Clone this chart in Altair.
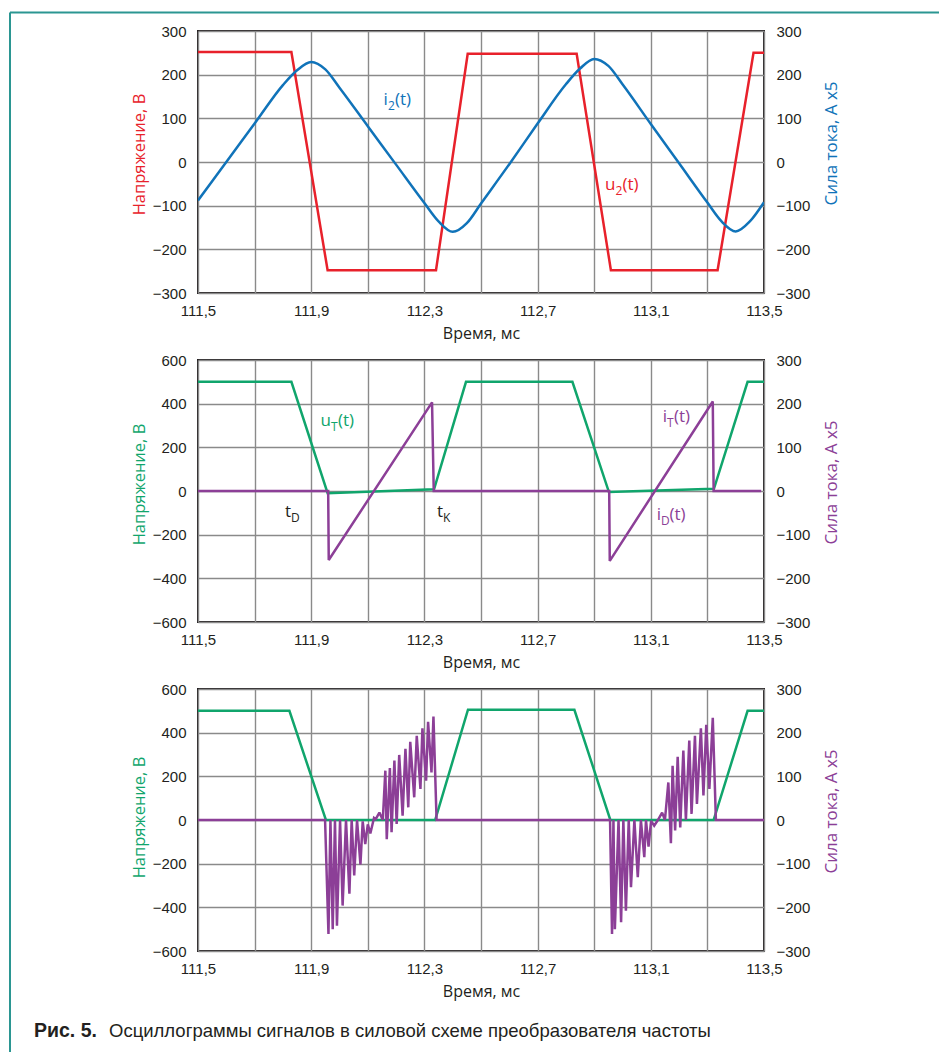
import altair as alt
import pandas as pd

# ---------------- data ----------------
x_grid = [111.5, 111.7, 111.9, 112.1, 112.3, 112.5, 112.7, 112.9, 113.1, 113.3, 113.5]
y_left_1 = [-300, -200, -100, 0, 100, 200, 300]
y_right = [-300, -200, -100, 0, 100, 200, 300]
y_left_2 = [-600, -400, -200, 0, 200, 400, 600]

# Panel 1: u2(t) (V) and i2(t) (A x5)
u2_t = [111.5, 111.83, 111.958, 112.341, 112.453, 112.838, 112.959, 113.336, 113.463, 113.5]
u2_v = [252, 252, -248, -248, 248, 248, -248, -248, 250, 250]
i2_t = [111.5, 111.6, 111.7, 111.8, 111.85, 111.9, 111.95, 112.0, 112.1, 112.2, 112.3,
        112.35, 112.4, 112.45, 112.5, 112.6, 112.7, 112.8, 112.85, 112.9, 112.95, 113.0,
        113.1, 113.2, 113.3, 113.35, 113.4, 113.45, 113.5]
i2_v = [-88, 0, 88, 176, 210, 229, 212, 170, 82, -6, -94,
        -136, -160, -140, -95, -5, 88, 178, 214, 236, 220, 178,
        87, -3, -93, -136, -159, -136, -92]

# Panel 2: uT(t) (V) and iT/iD(t) (A x5)
ut2_t = [111.5, 111.83, 111.958, 112.334, 112.447, 112.823, 112.952, 113.323, 113.442, 113.5]
ut2_v = [500, 500, -10, 8, 500, 500, -5, 10, 500, 500]
it2_t = [111.5, 111.96, 111.962, 112.327, 112.333, 112.953, 112.955, 113.319, 113.322, 113.49]
it2_v = [0, 0, -158, 203, 0, 0, -160, 205, 0, 0]

# Panel 3: uT(t) (V) and oscillating current (A x5)
ut3_t = [111.5, 111.823, 111.952, 112.338, 112.454, 112.83, 112.957, 113.322, 113.442, 113.5]
ut3_v = [500, 500, 0, 0, 505, 505, 0, 0, 500, 500]
it3_t = [111.5, 111.949, 111.961, 111.968, 111.976, 111.984, 111.991, 112.002, 112.011, 112.023,
         112.035, 112.043, 112.052, 112.062, 112.074, 112.082, 112.091, 112.100, 112.109, 112.122,
         112.128, 112.141, 112.153, 112.162, 112.167, 112.178, 112.184, 112.194, 112.202, 112.211,
         112.223, 112.233, 112.243, 112.250, 112.264, 112.273, 112.286, 112.293, 112.306, 112.313,
         112.325, 112.332, 112.343,
         112.956, 112.963, 112.968, 112.973, 112.986, 112.995, 113.003, 113.012, 113.022, 113.030,
         113.042, 113.054, 113.065, 113.077, 113.083, 113.092, 113.101, 113.112, 113.125, 113.140,
         113.150, 113.162, 113.171, 113.177, 113.186, 113.195, 113.204, 113.215, 113.224, 113.236,
         113.244, 113.256, 113.263, 113.277, 113.286, 113.296, 113.307, 113.319, 113.330, 113.5]
it3_v = [0, 0, -261, 0, -250, 0, -242, 0, -196, 0,
         -169, 0, -127, 0, -102, -3, -55, -10, -31, 5,
         2, 17, 0, 113, -44, 119, -28, 136, -9, 149,
         10, 163, 29, 179, 52, 193, 71, 210, 90, 225,
         109, 237, 0,
         0, -261, 0, -250, 0, -234, 0, -208, 0, -154,
         0, -131, 0, -85, 0, -61, -2, -13, 0, 17,
         0, 86, -53, 124, -24, 145, -17, 159, 0, 182,
         14, 193, 37, 210, 56, 218, 71, 234, 0, 0]

# in-plot labels: (t, value, main, subscript, tail, colour key, axis side)
labels_1 = [(112.171, 142, "i", "2", "(t)", "blue", "right"),
            (112.975, -53, "u", "2", "(t)", "red", "left")]
labels_2 = [(111.97, 322, "u", "T", "(t)", "green", "left"),
            (111.829, -98, "t", "D", "", "black", "left"),
            (112.366, -98, "t", "K", "", "black", "left"),
            (113.157, 169, "i", "T", "(t)", "purple", "right"),
            (113.136, -54, "i", "D", "(t)", "purple", "right")]

caption_bold = "Рис. 5."
caption_text = "Осциллограммы сигналов в силовой схеме преобразователя частоты"

# ---------------- styling ----------------
COL = {"red": "#e8212b", "blue": "#1073b9", "green": "#10a56c",
       "purple": "#8c3f97", "black": "#231f20"}
GRID = "#8a8a8a"
INK = "#231f20"
TEAL = "#2b9692"
FT = "Liberation Sans, Arial, sans-serif"
FX = "Open Sans, sans-serif"
W, H = 566, 262
SUBW = {"2": 7, "T": 7, "D": 8.5, "K": 8}


def x_enc():
    return alt.X("t:Q",
                 scale=alt.Scale(domain=[111.5, 113.5], nice=False, zero=False),
                 axis=alt.Axis(values=x_grid,
                               labelExpr="round(datum.value*10) % 4 == 3 ? replace(format(datum.value, '.1f'), '.', ',') : ''",
                               grid=True, gridColor=GRID, gridWidth=1.4, ticks=False, domain=False,
                               labelFont=FT, labelFontSize=15, labelColor=INK, labelPadding=10,
                               labelFlush=False, labelOverlap=False,
                               title="Время, мс", titleFont=FX, titleFontSize=16,
                               titleFontWeight="normal", titleColor=INK, titlePadding=7))


def y_enc(side, dom, vals, title, color, tshift):
    if side == "left":
        ax = alt.Axis(orient="left", values=vals, grid=True, gridColor=GRID, gridWidth=1.4,
                      ticks=False, domain=False, labelFont=FT, labelFontSize=15, labelColor=INK,
                      labelPadding=12, labelFlush=False, labelOverlap=False,
                      title=title, titleFont=FX, titleFontSize=16.5, titleFontWeight="normal",
                      titleColor=color, titlePadding=5, titleY=H / 2 - tshift)
    else:
        ax = alt.Axis(orient="right", values=vals, grid=False, ticks=False, domain=False,
                      labelFont=FT, labelFontSize=15, labelColor=INK, labelPadding=12,
                      labelFlush=False, labelOverlap=False,
                      title=title, titleFont=FX, titleFontSize=17, titleFontWeight="normal",
                      titleColor=color, titlePadding=14, titleAngle=270, titleBaseline="top",
                      titleY=H / 2 - tshift)
    return alt.Y("v:Q", scale=alt.Scale(domain=dom, nice=False, zero=False), axis=ax)


def line(ts, vs, color, yenc, interp="linear"):
    df = pd.DataFrame({"t": ts, "v": vs, "i": list(range(len(ts)))})
    return alt.Chart(df).mark_line(color=color, strokeWidth=2.5, strokeJoin="miter",
                                   strokeMiterLimit=2, clip=True, interpolate=interp).encode(
        x=x_enc(), y=yenc, order=alt.Order("i:Q"))


def label(t, v, main, sub, tail, ckey, yenc):
    df = pd.DataFrame({"t": [t], "v": [v]})
    c = COL[ckey]
    base = alt.Chart(df)
    layers = [
        base.mark_text(text=main, align="right", baseline="middle", font=FX, fontSize=17,
                       color=c).encode(x=x_enc(), y=yenc),
        base.mark_text(text=sub, align="left", baseline="middle", font=FX, fontSize=12,
                       dy=6, color=c).encode(x=x_enc(), y=yenc),
    ]
    if tail:
        layers.append(base.mark_text(text=tail, align="left", baseline="middle", font=FX,
                                     fontSize=17, dx=SUBW[sub], color=c).encode(x=x_enc(), y=yenc))
    return layers


def panel(left_series, right_series, ldom, lvals, lcolor, rcolor, labels, lshift, rshift,
          extra=None, rinterp="linear"):
    yl = y_enc("left", ldom, lvals, "Напряжение, В", lcolor, lshift)
    yr = y_enc("right", [-300, 300], y_right, "Сила тока, А x5", rcolor, rshift)
    left_layers = [line(left_series[0], left_series[1], lcolor, yl)]
    right_layers = [line(right_series[0], right_series[1], rcolor, yr, rinterp)]
    for (t, v, m, s, tl, ck, side) in labels:
        if side == "left":
            left_layers += label(t, v, m, s, tl, ck, yl)
        else:
            right_layers += label(t, v, m, s, tl, ck, yr)
    parts = [alt.layer(*left_layers), alt.layer(*right_layers)]
    if extra:
        parts += extra
    return alt.layer(*parts).resolve_scale(y="independent").properties(width=W, height=H)


one = pd.DataFrame({"k": [0]})
frame = [
    alt.Chart(one).mark_rule(color=TEAL, strokeWidth=2).encode(
        x=alt.value(-188), x2=alt.value(741), y=alt.value(-18.5)),
    alt.Chart(one).mark_rule(color=TEAL, strokeWidth=2).encode(
        x=alt.value(-188), y=alt.value(-18.5), y2=alt.value(1021)),
]

caption = [
    alt.Chart(one).mark_text(text=caption_bold, align="left", baseline="middle", font=FT,
                             fontSize=19.5, fontWeight="bold", color=INK).encode(
        x=alt.value(-164), y=alt.value(342)),
    alt.Chart(one).mark_text(text=caption_text, align="left", baseline="middle", font=FT,
                             fontSize=18.5, color=INK).encode(
        x=alt.value(-89), y=alt.value(342)),
]

p1 = panel((u2_t, u2_v), (i2_t, i2_v), [-300, 300], y_left_1, COL["red"], COL["blue"],
           labels_1, 8, 19, extra=frame, rinterp="monotone")
p2 = panel((ut2_t, ut2_v), (it2_t, it2_v), [-600, 600], y_left_2, COL["green"], COL["purple"],
           labels_2, 7, 9)
p3 = panel((ut3_t, ut3_v), (it3_t, it3_v), [-600, 600], y_left_2, COL["green"], COL["purple"],
           [], 3, 9, extra=caption)

chart = alt.vconcat(p1, p2, p3, spacing=67, bounds="flush").properties(
    padding={"left": 0, "top": 2, "right": 0, "bottom": 0},
    background="white",
).configure_view(stroke=INK, strokeWidth=2)

chart.save("out.html", embed_options={"renderer": "svg", "actions": False})
